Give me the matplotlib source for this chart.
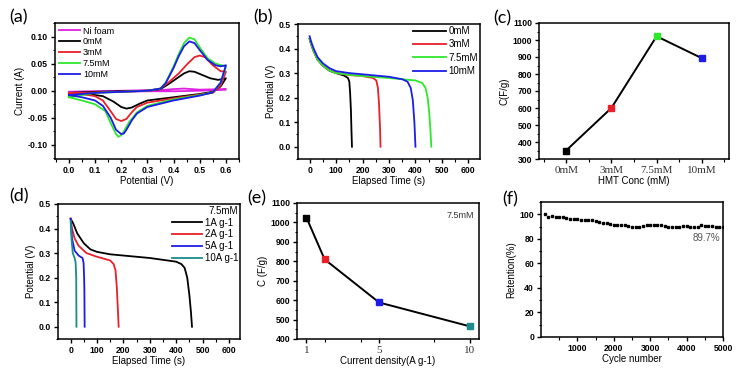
import matplotlib
matplotlib.use("Agg")
import matplotlib.pyplot as plt
from matplotlib.ticker import MultipleLocator, FixedLocator, FormatStrFormatter

plt.rcParams["font.family"] = ["Liberation Sans", "DejaVu Sans"]

# ---- (a) CV loops: upper (anodic) then lower (cathodic) branch ----
ni_pot = [0, 0.1, 0.2, 0.3, 0.35, 0.4, 0.44, 0.5, 0.6, 0.6, 0.5, 0.4, 0.3, 0.2, 0.1, 0]
ni_cur = [-0.002, -0.001, 0, 0.001, 0.001, 0.003, 0.004, 0.002, 0.003,
          0.002, 0.0, -0.001, -0.001, -0.002, -0.002, -0.002]

cv0_pot = [0, 0.05, 0.1, 0.2, 0.3, 0.35, 0.38, 0.41, 0.44, 0.46, 0.48, 0.51, 0.54, 0.57, 0.6,
           0.6, 0.58, 0.55, 0.5, 0.4, 0.3, 0.27, 0.24, 0.22, 0.2, 0.17, 0.13, 0.1, 0.05, 0]
cv0_cur = [-0.004, -0.003, -0.002, -0.001, 0.0, 0.003, 0.012, 0.022, 0.032, 0.036, 0.035, 0.029, 0.023, 0.02, 0.023,
           0.023, 0.008, -0.002, -0.006, -0.012, -0.018, -0.024, -0.031, -0.033, -0.03, -0.02, -0.01, -0.008, -0.006, -0.004]

cv3_pot = [0, 0.05, 0.1, 0.2, 0.3, 0.35, 0.38, 0.42, 0.45, 0.48, 0.5, 0.52, 0.55, 0.58, 0.6,
           0.6, 0.58, 0.55, 0.5, 0.4, 0.3, 0.26, 0.24, 0.22, 0.2, 0.18, 0.16, 0.13, 0.1, 0.05, 0]
cv3_cur = [-0.004, -0.004, -0.003, -0.002, 0.0, 0.004, 0.015, 0.032, 0.048, 0.062, 0.065, 0.062, 0.047, 0.036, 0.035,
           0.035, 0.01, -0.004, -0.007, -0.014, -0.022, -0.03, -0.04, -0.052, -0.056, -0.052, -0.038, -0.018, -0.01, -0.006, -0.004]

cv75_pot = [0, 0.05, 0.1, 0.2, 0.3, 0.35, 0.37, 0.4, 0.42, 0.44, 0.46, 0.48, 0.5, 0.53, 0.56, 0.6,
            0.6, 0.58, 0.55, 0.5, 0.4, 0.3, 0.26, 0.23, 0.21, 0.2, 0.19, 0.18, 0.16, 0.14, 0.1, 0.05, 0]
cv75_cur = [-0.012, -0.008, -0.004, -0.002, 0.0, 0.004, 0.015, 0.045, 0.068, 0.088, 0.098, 0.095, 0.08, 0.06, 0.05, 0.045,
            0.045, 0.015, -0.003, -0.008, -0.016, -0.028, -0.04, -0.058, -0.075, -0.082, -0.085, -0.08, -0.06, -0.038, -0.025, -0.018, -0.012]

cv10_pot = [0, 0.05, 0.1, 0.2, 0.3, 0.35, 0.37, 0.4, 0.42, 0.44, 0.46, 0.48, 0.5, 0.53, 0.56, 0.58, 0.6,
            0.6, 0.58, 0.55, 0.5, 0.4, 0.3, 0.26, 0.24, 0.22, 0.21, 0.2, 0.18, 0.16, 0.13, 0.1, 0.05, 0]
cv10_cur = [-0.008, -0.006, -0.004, -0.002, 0.0, 0.004, 0.014, 0.042, 0.064, 0.082, 0.091, 0.088, 0.075, 0.057, 0.047, 0.045, 0.047,
            0.047, 0.015, -0.003, -0.009, -0.018, -0.03, -0.042, -0.055, -0.072, -0.079, -0.08, -0.072, -0.05, -0.028, -0.018, -0.012, -0.008]

# ---- (b) discharge curves vs HMT concentration ----
gcd0_t = [0, 5, 15, 30, 50, 75, 100, 130, 145, 150, 153, 156, 158, 160]
gcd0_v = [0.44, 0.42, 0.39, 0.355, 0.33, 0.31, 0.30, 0.29, 0.28, 0.265, 0.22, 0.15, 0.07, 0.0]
gcd3_t = [0, 5, 15, 30, 50, 75, 100, 150, 200, 240, 252, 258, 262, 266, 268]
gcd3_v = [0.44, 0.42, 0.39, 0.355, 0.33, 0.31, 0.30, 0.292, 0.288, 0.28, 0.27, 0.24, 0.18, 0.08, 0.0]
gcd75_t = [0, 5, 15, 30, 50, 75, 100, 150, 200, 300, 400, 425, 438, 446, 452, 457, 460]
gcd75_v = [0.44, 0.42, 0.39, 0.355, 0.33, 0.31, 0.30, 0.293, 0.288, 0.28, 0.27, 0.26, 0.24, 0.20, 0.14, 0.06, 0.0]
gcd10_t = [0, 5, 15, 30, 50, 75, 100, 150, 200, 300, 350, 370, 382, 390, 396, 400]
gcd10_v = [0.45, 0.43, 0.40, 0.365, 0.34, 0.32, 0.308, 0.30, 0.295, 0.285, 0.275, 0.265, 0.24, 0.19, 0.10, 0.0]

# ---- (c) capacitance vs HMT concentration ----
hmt_labels = ["0mM", "3mM", "7.5mM", "10mM"]
hmt_cap = [350, 600, 1022, 893]

# ---- (d) discharge at different current densities (7.5mM) ----
d1_t = [0, 10, 25, 50, 75, 100, 150, 200, 300, 400, 420, 432, 442, 450, 456, 460]
d1_v = [0.44, 0.42, 0.38, 0.34, 0.315, 0.305, 0.295, 0.29, 0.28, 0.265, 0.255, 0.24, 0.20, 0.13, 0.06, 0.0]
d2_t = [0, 5, 15, 30, 60, 100, 150, 163, 170, 175, 179, 182]
d2_v = [0.44, 0.40, 0.36, 0.33, 0.30, 0.285, 0.27, 0.255, 0.23, 0.16, 0.07, 0.0]
d5_t = [0, 5, 15, 30, 45, 49, 51, 52, 53]
d5_v = [0.44, 0.36, 0.31, 0.29, 0.28, 0.26, 0.20, 0.15, 0.0]
d10_t = [0, 3, 8, 15, 19, 21, 22]
d10_v = [0.43, 0.36, 0.30, 0.28, 0.26, 0.20, 0.0]

# ---- (e) capacitance vs current density ----
cd_x = [1, 2, 5, 10]
cd_cap = [1025, 810, 588, 465]

# ---- (f) cycling retention ----
cyc_n = [100, 200, 300, 400, 500, 600, 700, 800, 900, 1000,
         1100, 1200, 1300, 1400, 1500, 1600, 1700, 1800, 1900, 2000,
         2100, 2200, 2300, 2400, 2500, 2600, 2700, 2800, 2900, 3000,
         3100, 3200, 3300, 3400, 3500, 3600, 3700, 3800, 3900, 4000,
         4100, 4200, 4300, 4400, 4500, 4600, 4700, 4800, 4900, 5000]
cyc_ret = [100, 97.5, 98.5, 98, 97.5, 97.5, 97, 96.5, 96.5, 96,
           95.5, 95.5, 95.5, 95, 94.5, 94, 93, 92.5, 92, 91.5,
           91, 91, 91, 90.5, 90, 90, 90, 90.5, 91, 91.5,
           91.5, 91, 91, 90.5, 90, 90, 90, 90, 90.5, 90.5,
           90, 90, 89.5, 91, 90.5, 90.5, 90.5, 90, 90, 89.7]

BLACK, RED, GREEN, BLUE, MAGENTA, TEAL = "#000000", "#e8202a", "#2ee82e", "#1c1ce8", "#e020e0", "#1a8c8c"
W, H = 736, 370


def box(l, t, r, b):
    return [l / W, 1 - b / H, (r - l) / W, (b - t) / H]


def style(ax, xlabel, ylabel):
    for s in ax.spines.values():
        s.set_linewidth(1.1)
    ax.tick_params(which="major", direction="out", length=3, width=1, labelsize=6.2, pad=2)
    ax.tick_params(which="minor", direction="out", length=1.8, width=0.8)
    for lab in ax.get_xticklabels() + ax.get_yticklabels():
        lab.set_fontweight("bold")
    ax.set_xlabel(xlabel, fontsize=7, labelpad=1)
    ax.set_ylabel(ylabel, fontsize=7, labelpad=2)


fig = plt.figure(figsize=(7.36, 3.70), dpi=100)

# (a)
ax = fig.add_axes(box(55, 23, 239, 159))
ax.plot(ni_pot, ni_cur, color=MAGENTA, lw=1.3, label="Ni foam")
ax.plot(cv0_pot, cv0_cur, color=BLACK, lw=1.3, label="0mM")
ax.plot(cv3_pot, cv3_cur, color=RED, lw=1.3, label="3mM")
ax.plot(cv75_pot, cv75_cur, color=GREEN, lw=1.3, label="7.5mM")
ax.plot(cv10_pot, cv10_cur, color=BLUE, lw=1.3, label="10mM")
ax.set_xlim(-0.053, 0.65)
ax.set_ylim(-0.126, 0.125)
ax.xaxis.set_major_locator(MultipleLocator(0.1))
ax.xaxis.set_minor_locator(MultipleLocator(0.05))
ax.yaxis.set_major_locator(MultipleLocator(0.05))
ax.yaxis.set_minor_locator(MultipleLocator(0.025))
ax.xaxis.set_major_formatter(FormatStrFormatter("%.1f"))
ax.yaxis.set_major_formatter(FormatStrFormatter("%.2f"))
style(ax, "Potential (V)", "Current (A)")
ax.legend(loc="upper left", fontsize=6.5, frameon=False, handlelength=2.4,
          handletextpad=0.3, labelspacing=0.2, borderaxespad=0.2, borderpad=0.2)

# (b)
ax = fig.add_axes(box(298, 24, 480, 159))
ax.plot(gcd0_t, gcd0_v, color=BLACK, lw=1.3, label="0mM")
ax.plot(gcd3_t, gcd3_v, color=RED, lw=1.3, label="3mM")
ax.plot(gcd75_t, gcd75_v, color=GREEN, lw=1.3, label="7.5mM")
ax.plot(gcd10_t, gcd10_v, color=BLUE, lw=1.3, label="10mM")
ax.set_xlim(-44, 644)
ax.set_ylim(-0.05, 0.5)
ax.xaxis.set_major_locator(MultipleLocator(100))
ax.xaxis.set_minor_locator(MultipleLocator(50))
ax.yaxis.set_major_locator(MultipleLocator(0.1))
ax.yaxis.set_minor_locator(MultipleLocator(0.05))
ax.yaxis.set_major_formatter(FormatStrFormatter("%.1f"))
style(ax, "Elapsed Time (s)", "Potential (V)")
ax.legend(loc="upper right", fontsize=7, frameon=False, handlelength=3.4,
          handletextpad=0.3, labelspacing=0.35, borderaxespad=0.1, borderpad=0.1)

# (c)
ax = fig.add_axes(box(539, 23, 729, 159))
pos = list(range(len(hmt_labels)))
ax.plot(pos, hmt_cap, color=BLACK, lw=1.4, zorder=2)
for p, v, c in zip(pos, hmt_cap, [BLACK, RED, GREEN, BLUE]):
    ax.plot(p, v, marker="s", ms=5, color=c, mec=c, zorder=3)
ax.set_xlim(-0.6, 3.6)
ax.set_ylim(300, 1100)
ax.set_xticks(pos)
ax.xaxis.set_minor_locator(FixedLocator([-0.5, 0.5, 1.5, 2.5, 3.5]))
ax.yaxis.set_major_locator(MultipleLocator(100))
ax.yaxis.set_minor_locator(MultipleLocator(50))
style(ax, "HMT Conc (mM)", "C(F/g)")
ax.set_xticklabels(hmt_labels, family=["Liberation Serif"], fontsize=8,
                   fontweight="normal", color="#333333")

# (d)
ax = fig.add_axes(box(58, 204, 240, 339))
ax.plot(d1_t, d1_v, color=BLACK, lw=1.3, label="1A g-1")
ax.plot(d2_t, d2_v, color=RED, lw=1.3, label="2A g-1")
ax.plot(d5_t, d5_v, color=BLUE, lw=1.3, label="5A g-1")
ax.plot(d10_t, d10_v, color=TEAL, lw=1.3, label="10A g-1")
ax.set_xlim(-48, 642)
ax.set_ylim(-0.05, 0.5)
ax.xaxis.set_major_locator(MultipleLocator(100))
ax.xaxis.set_minor_locator(MultipleLocator(50))
ax.yaxis.set_major_locator(MultipleLocator(0.1))
ax.yaxis.set_minor_locator(MultipleLocator(0.05))
ax.yaxis.set_major_formatter(FormatStrFormatter("%.1f"))
style(ax, "Elapsed Time (s)", "Potential (V)")
leg = ax.legend(loc="upper right", fontsize=7, frameon=False, handlelength=3.0,
                handletextpad=0.3, labelspacing=0.18, borderaxespad=0.1, borderpad=0.1,
                title="7.5mM", title_fontsize=7)
leg._legend_box.align = "right"

# (e)
ax = fig.add_axes(box(297, 203, 479, 339))
ax.plot(cd_x, cd_cap, color=BLACK, lw=1.4, zorder=2)
for p, v, c in zip(cd_x, cd_cap, [BLACK, RED, BLUE, TEAL]):
    ax.plot(p, v, marker="s", ms=5, color=c, mec=c, zorder=3)
ax.set_xlim(0.48, 10.5)
ax.set_ylim(400, 1100)
ax.xaxis.set_major_locator(FixedLocator([1, 5, 10]))
ax.xaxis.set_minor_locator(FixedLocator([2, 4, 8]))
ax.yaxis.set_major_locator(MultipleLocator(100))
ax.yaxis.set_minor_locator(MultipleLocator(50))
style(ax, "Current density(A g-1)", "C (F/g)")
ax.set_xticklabels(["1", "5", "10"], family=["Liberation Serif"], fontsize=8,
                   fontweight="normal", color="#333333")
ax.text(0.97, 0.94, "7.5mM", transform=ax.transAxes, ha="right", va="top",
        fontsize=6.5, color="#333333")

# (f)
ax = fig.add_axes(box(541, 202, 723, 337))
ax.plot(cyc_n, cyc_ret, ls="none", marker="s", ms=1.9, color=BLACK)
ax.set_xlim(0, 5000)
ax.set_ylim(0, 110)
ax.xaxis.set_major_locator(FixedLocator([1000, 2000, 3000, 4000, 5000]))
ax.xaxis.set_minor_locator(FixedLocator([500, 1500, 2500, 3500, 4500]))
ax.yaxis.set_major_locator(MultipleLocator(20))
ax.yaxis.set_minor_locator(MultipleLocator(10))
style(ax, "Cycle number", "Retention(%)")
ax.text(4550, 81, "89.7%", ha="center", va="center", fontsize=7, color="#555555")

# panel letters
for x, y, s in [(9, 17, "(a)"), (253, 17, "(b)"), (493, 18, "(c)"),
                (9, 196, "(d)"), (247, 198, "(e)"), (502, 199, "(f)")]:
    fig.text(x / W, 1 - y / H, s, fontsize=13, family=["Lato", "DejaVu Sans"],
             ha="left", va="center")

fig.savefig("out.png", dpi=100)
